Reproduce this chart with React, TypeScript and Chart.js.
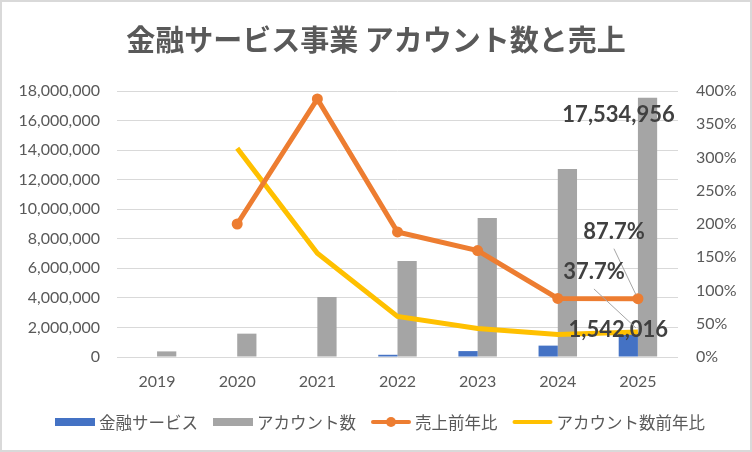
import React, { useEffect, useRef } from 'react';
import { Chart, registerables } from 'chart.js';

Chart.register(...registerables);

// values
const years = ['2019', '2020', '2021', '2022', '2023', '2024', '2025'];
const financeService = [0, 0, 0, 150000, 400000, 770000, 1542016];
const accounts = [380000, 1580000, 4060000, 6500000, 9400000, 12730000, 17534956];
const salesYoY = [null, 200, 388, 188, 160, 88, 87.7];
const accountsYoY = [null, 314, 156, 61, 43, 34, 37.7];

const titleText = '金融サービス事業 アカウント数と売上';
const seriesNames = ['金融サービス', 'アカウント数', '売上前年比', 'アカウント数前年比'];
const colors = ['#4472C4', '#A5A5A5', '#ED7D31', '#FFC000'];

const CJK = '"Noto Sans CJK JP", "Noto Sans", sans-serif';
const NUM = 'Lato, "Noto Sans", sans-serif';
const TEXT_GRAY = '#595959';

const fmtNum = (v: number) => v.toLocaleString('en-US');
const fmtPct = (v: number) => `${v.toFixed(1)}%`;

// callouts for the last year, offset from the mark they belong to
const last = years.length - 1;
const callouts = [
  { ds: 1, text: fmtNum(accounts[last]), dx: -29, dy: 17, leader: false },
  { ds: 0, text: fmtNum(financeService[last]), dx: -10, dy: -4, leader: false },
  { ds: 2, text: fmtPct(salesYoY[last] as number), dx: -24, dy: -67, leader: true },
  { ds: 3, text: fmtPct(accountsYoY[last] as number), dx: -44, dy: -60, leader: true },
];

const framePlugin = {
  id: 'frame',
  beforeDraw(chart: any) {
    const { ctx, width, height } = chart;
    ctx.save();
    ctx.fillStyle = '#ffffff';
    ctx.fillRect(0, 0, width, height);
    ctx.restore();
  },
  afterDatasetsDraw(chart: any) {
    const { ctx } = chart;
    ctx.save();
    ctx.font = `bold 22px ${NUM}`;
    ctx.textAlign = 'center';
    ctx.textBaseline = 'middle';
    callouts.forEach((c) => {
      const el = chart.getDatasetMeta(c.ds).data[last];
      if (!el) return;
      const cx = el.x + c.dx;
      const cy = el.y + c.dy;
      if (c.leader) {
        ctx.strokeStyle = '#A6A6A6';
        ctx.lineWidth = 1;
        ctx.beginPath();
        ctx.moveTo(cx, cy + 17);
        ctx.lineTo(el.x - 2, el.y - 4);
        ctx.stroke();
      }
      ctx.fillStyle = '#404040';
      ctx.fillText(c.text, cx, cy);
    });
    ctx.restore();
  },
  afterDraw(chart: any) {
    const { ctx, width, height } = chart;
    ctx.save();
    // title
    ctx.fillStyle = TEXT_GRAY;
    ctx.font = `bold 29px ${CJK}`;
    ctx.textAlign = 'center';
    ctx.textBaseline = 'middle';
    ctx.fillText(titleText, width / 2, 40);

    // legend
    ctx.font = `16.5px ${CJK}`;
    ctx.textAlign = 'left';
    const keyW = 40;
    const gap = 4;
    const spacing = 15;
    const widths = seriesNames.map((n) => ctx.measureText(n).width);
    const total = widths.reduce((a, w) => a + keyW + gap + w, 0) + spacing * (seriesNames.length - 1);
    let x = width / 2 + 4 - total / 2;
    const y = 422;
    seriesNames.forEach((name, i) => {
      if (i < 2) {
        ctx.fillStyle = colors[i];
        ctx.fillRect(x, y - 4, keyW, 8);
      } else {
        ctx.strokeStyle = colors[i];
        ctx.lineWidth = 4;
        ctx.lineCap = 'round';
        ctx.beginPath();
        ctx.moveTo(x + 2, y);
        ctx.lineTo(x + keyW - 2, y);
        ctx.stroke();
        if (i === 2) {
          ctx.fillStyle = colors[i];
          ctx.beginPath();
          ctx.arc(x + keyW / 2, y, 5, 0, Math.PI * 2);
          ctx.fill();
        }
      }
      ctx.fillStyle = TEXT_GRAY;
      ctx.fillText(name, x + keyW + gap, y + 1);
      x += keyW + gap + widths[i] + spacing;
    });

    // outer border
    ctx.strokeStyle = '#D9D9D9';
    ctx.lineWidth = 4;
    ctx.strokeRect(0, 0, width, height);
    ctx.restore();
  },
};

const App: React.FC = () => {
  const chartRef = useRef<HTMLCanvasElement | null>(null);

  useEffect(() => {
    if (!chartRef.current) return;
    const ctx = chartRef.current.getContext('2d');
    if (!ctx) return;

    const chartInstance = new Chart(ctx, {
      type: 'bar',
      data: {
        labels: years,
        datasets: [
          {
            type: 'bar',
            label: seriesNames[0],
            data: financeService,
            backgroundColor: colors[0],
            yAxisID: 'y',
            barPercentage: 1,
            categoryPercentage: 0.48,
            order: 3,
          },
          {
            type: 'bar',
            label: seriesNames[1],
            data: accounts,
            backgroundColor: colors[1],
            yAxisID: 'y',
            barPercentage: 1,
            categoryPercentage: 0.48,
            order: 3,
          },
          {
            type: 'line',
            label: seriesNames[2],
            data: salesYoY,
            borderColor: colors[2],
            backgroundColor: colors[2],
            borderWidth: 5,
            pointRadius: 5.5,
            pointBorderWidth: 0,
            pointBackgroundColor: colors[2],
            tension: 0,
            yAxisID: 'y1',
            order: 1,
          },
          {
            type: 'line',
            label: seriesNames[3],
            data: accountsYoY,
            borderColor: colors[3],
            backgroundColor: colors[3],
            borderWidth: 5,
            pointRadius: 0,
            tension: 0,
            yAxisID: 'y1',
            order: 2,
          },
        ] as any,
      },
      options: {
        animation: false,
        responsive: true,
        maintainAspectRatio: false,
        layout: { padding: { top: 91, left: 10, right: 10, bottom: 55 } },
        plugins: {
          legend: { display: false },
          title: { display: false },
          tooltip: { enabled: false },
        },
        scales: {
          x: {
            grid: { display: false, drawTicks: false },
            border: { display: false },
            ticks: { color: TEXT_GRAY, font: { family: NUM, size: 16 }, padding: 15 },
            afterFit: (s: any) => { s.height = 40; },
          },
          y: {
            position: 'left',
            min: 0,
            max: 18000000,
            grid: { color: '#D9D9D9', lineWidth: 1, drawTicks: false },
            border: { display: false },
            ticks: {
              stepSize: 2000000,
              color: TEXT_GRAY,
              font: { family: NUM, size: 16 },
              padding: 17,
              callback: (v: any) => fmtNum(Number(v)),
            },
            afterFit: (s: any) => { s.width = 107; },
          },
          y1: {
            position: 'right',
            min: 0,
            max: 400,
            grid: { display: false, drawTicks: false },
            border: { display: false },
            ticks: {
              stepSize: 50,
              color: TEXT_GRAY,
              font: { family: NUM, size: 16 },
              padding: 18,
              callback: (v: any) => `${v}%`,
            },
            afterFit: (s: any) => { s.width = 64; },
          },
        },
      } as any,
      plugins: [framePlugin],
    });

    return () => chartInstance.destroy();
  }, []);

  return (
    <div style={{ position: 'fixed', left: 0, top: 0, width: 752, height: 452 }}>
      <canvas ref={chartRef} />
    </div>
  );
};

export default App;
